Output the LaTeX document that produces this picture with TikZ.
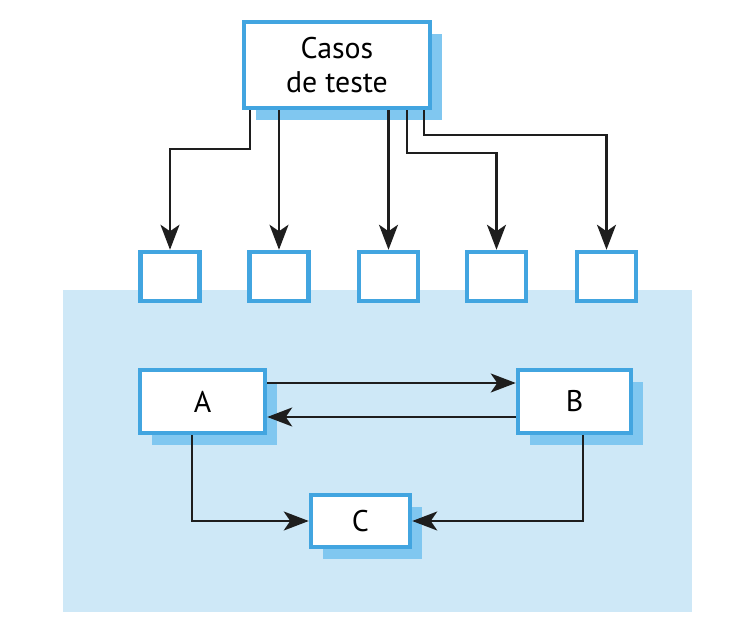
\documentclass[tikz,border=0pt]{standalone}
\usepackage{fontspec}
\setmainfont{PT Sans}
\usepackage{tikz}
\usetikzlibrary{shadows}
\usetikzlibrary{arrows.meta}
\definecolor{boxblue}{RGB}{66,165,224}
\definecolor{shadowblue}{RGB}{128,199,240}
\definecolor{areablue}{RGB}{206,232,247}
\definecolor{arrowgray}{RGB}{30,30,30}

\begin{document}
\begin{tikzpicture}[
    font=\fontsize{17}{19}\selectfont,
    unitbox/.style={draw=boxblue, line width=0.09cm, fill=white, inner sep=0pt},
    shadowbox/.style={unitbox, drop shadow={shadow xshift=0.23cm, shadow yshift=-0.24cm, fill=shadowblue, opacity=1}},
    arr/.style={draw=arrowgray, line width=0.045cm, -{Stealth[length=0.5cm, width=0.38cm, inset=0.13cm]}}
]
                \useasboundingbox (0, 0) rectangle (15.04, 12.64);

                % Test area
                \fill[areablue] (1.26, 0.4) rectangle (13.84, 6.84);

                % Test cases
                \node[shadowbox, minimum width=3.72cm, minimum height=1.72cm, align=center] (casos) at (6.74, 11.34) {Casos\\de teste};

                % Small boxes
                \node[unitbox, minimum width=1.18cm, minimum height=0.98cm] (b1) at (3.40, 7.11) {};
                \node[unitbox, minimum width=1.18cm, minimum height=0.98cm] (b2) at (5.58, 7.11) {};
                \node[unitbox, minimum width=1.18cm, minimum height=0.98cm] (b3) at (7.77, 7.11) {};
                \node[unitbox, minimum width=1.18cm, minimum height=0.98cm] (b4) at (9.93, 7.11) {};
                \node[unitbox, minimum width=1.18cm, minimum height=0.98cm] (b5) at (12.13, 7.11) {};

                % Components
                \node[shadowbox, minimum width=2.50cm, minimum height=1.26cm] (A) at (4.05, 4.61) {A};
                \node[shadowbox, minimum width=2.26cm, minimum height=1.26cm] (B) at (11.49, 4.61) {B};
                \node[shadowbox, minimum width=1.98cm, minimum height=1.04cm] (C) at (7.21, 2.22) {C};

                % Test cases to boxes
                \draw[arr] ([xshift=-1.74cm]casos.south) -- ++(0, -0.78) -| (b1.north);
                \draw[arr] (b2.north |- casos.south) -- (b2.north);
                \draw[arr] (b3.north |- casos.south) -- (b3.north);
                \draw[arr] ([xshift=1.40cm]casos.south) -- ++(0, -0.86) -| (b4.north);
                \draw[arr] ([xshift=1.74cm]casos.south) -- ++(0, -0.50) -| (b5.north);

                % Between components
                \draw[arr] ([yshift=0.37cm]A.east) -- ([yshift=0.37cm]B.west);
                \draw[arr] ([yshift=-0.31cm]B.west) -- ([yshift=-0.31cm]A.east);
                \draw[arr] ([xshift=-0.21cm]A.south) |- (C.west);
                \draw[arr] ([xshift=0.17cm]B.south) |- (C.east);
            \end{tikzpicture}
\end{document}
